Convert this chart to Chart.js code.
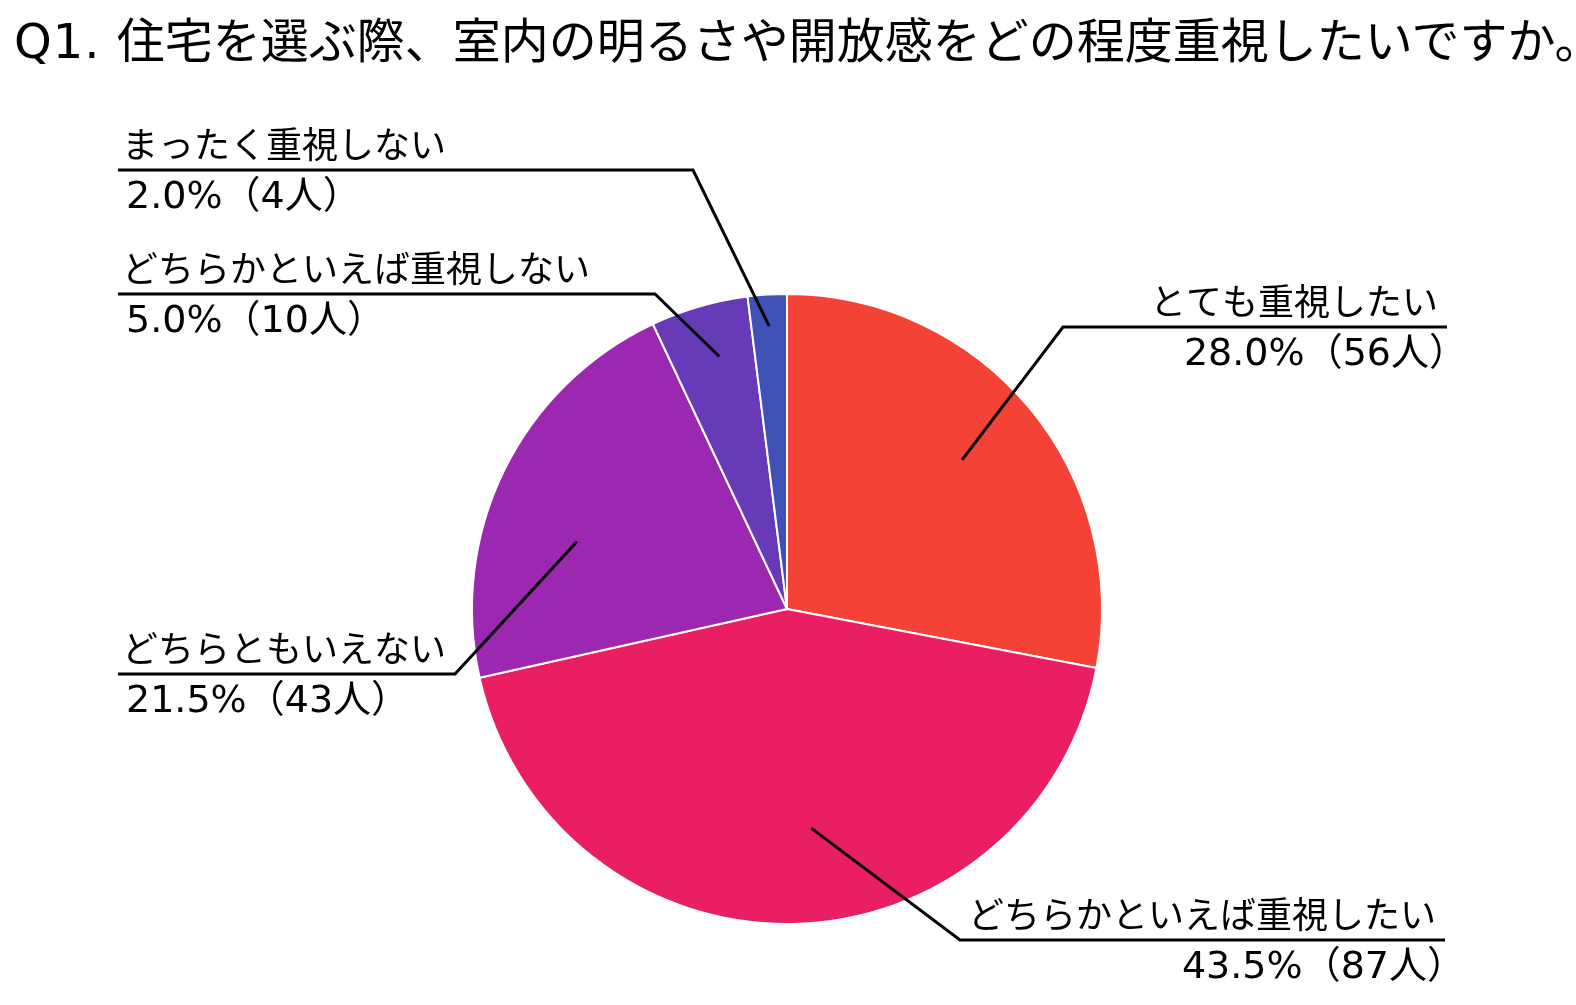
<!DOCTYPE html>
<html lang="ja">
<head>
<meta charset="utf-8">
<title>Q1</title>
<script src="https://cdn.jsdelivr.net/npm/chart.js@4.4.1/dist/chart.umd.min.js"></script>
<style>
  html, body { margin: 0; padding: 0; background: #fff; overflow: hidden; }
  #wrap { position: relative; width: 1576px; height: 1005px; }
  #title {
    position: absolute; left: 14px; top: 13px; margin: 0;
    font-family: "Noto Sans CJK JP", sans-serif; font-weight: 400;
    font-size: 48px; line-height: 1; color: #000; white-space: nowrap;
  }
  #title .q { font-family: "DejaVu Sans", sans-serif; font-weight: 400; letter-spacing: 1px; }
  canvas { display: block; }
</style>
</head>
<body>
<div id="wrap">
  <h1 id="title"><span class="q">Q1. </span>住宅を選ぶ際、室内の明るさや開放感をどの程度重視したいですか。</h1>
  <canvas id="pieChart" width="1576" height="1005"></canvas>
</div>
<script>
// データ
const categories = ['とても重視したい', 'どちらかといえば重視したい', 'どちらともいえない', 'どちらかといえば重視しない', 'まったく重視しない'];
const counts = [56, 87, 43, 10, 4];
const percents = [28.0, 43.5, 21.5, 5.0, 2.0];
const sliceColors = ['#F44336', '#E91E63', '#9C27B0', '#673AB7', '#3F51B5'];

// ラベルの配置（引き出し線）
const anchorFrac = [0.73, 0.70, 0.70, 0.83, 0.90];
const anchorShift = [-0.8, -5.4, -8.3, 1.2, 0];   // 度
const elbowPts = [[1063, 327], [960, 940], [455, 674], [655, 294], [693, 170]];
const lineEnds = [1447, 1445, 118, 118, 118];

const nameFont = '36px "Noto Sans CJK JP", sans-serif';
const pctFont = '38px "DejaVu Sans", "Noto Sans CJK JP", sans-serif';

// 引き出し線とラベルを描くプラグイン
const leaderLabels = {
  id: 'leaderLabels',
  afterDraw(chart) {
    const ctx = chart.ctx;
    const arcs = chart.getDatasetMeta(0).data;
    ctx.save();
    ctx.strokeStyle = '#000';
    ctx.lineWidth = 3;
    ctx.fillStyle = '#000';
    ctx.textBaseline = 'middle';
    arcs.forEach((arc, i) => {
      const p = arc.getProps(['x', 'y', 'startAngle', 'endAngle', 'outerRadius'], true);
      const mid = (p.startAngle + p.endAngle) / 2 + anchorShift[i] * Math.PI / 180;
      const ax = p.x + Math.cos(mid) * p.outerRadius * anchorFrac[i];
      const ay = p.y + Math.sin(mid) * p.outerRadius * anchorFrac[i];
      const [ex, ey] = elbowPts[i];
      const endX = lineEnds[i];

      ctx.beginPath();
      ctx.moveTo(ax, ay);
      ctx.lineTo(ex, ey);
      ctx.lineTo(endX, ey);
      ctx.stroke();

      const pctText = percents[i].toFixed(1) + '%（' + counts[i] + '人）';
      if (endX > ex) {
        ctx.textAlign = 'right';
        ctx.font = nameFont;
        ctx.fillText(categories[i], endX - 9, ey - 26);
        ctx.font = pctFont;
        ctx.fillText(pctText, endX + 20, ey + 28);
      } else {
        ctx.textAlign = 'left';
        ctx.font = nameFont;
        ctx.fillText(categories[i], endX + 4, ey - 26);
        ctx.font = pctFont;
        ctx.fillText(pctText, endX + 8, ey + 28);
      }
    });
    ctx.restore();
  }
};

const ctx = document.getElementById('pieChart').getContext('2d');
new Chart(ctx, {
  type: 'pie',
  data: {
    labels: categories,
    datasets: [{
      data: counts,
      backgroundColor: sliceColors,
      borderColor: '#ffffff',
      borderWidth: 2,
      hoverOffset: 0
    }]
  },
  options: {
    responsive: false,
    animation: false,
    layout: { padding: { top: 293, bottom: 80, left: 471, right: 473 } },
    plugins: {
      legend: { display: false },
      tooltip: { enabled: false }
    }
  },
  plugins: [leaderLabels]
});
</script>
</body>
</html>
